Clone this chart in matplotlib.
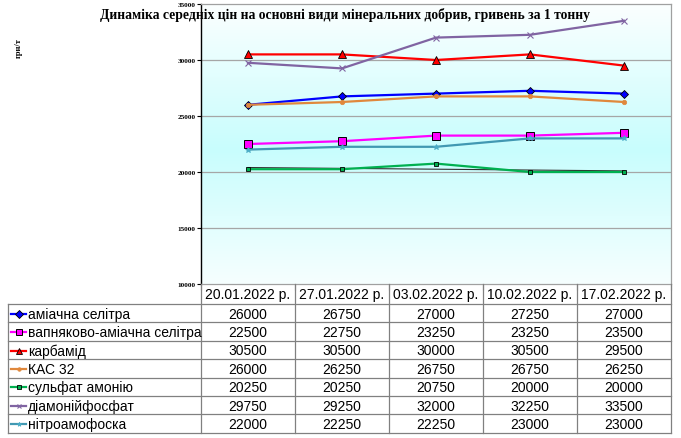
import numpy as np
import matplotlib
matplotlib.use('Agg')
import matplotlib.pyplot as plt
from matplotlib.lines import Line2D
from matplotlib.colors import LinearSegmentedColormap

title = "Динаміка середніх цін на основні види мінеральних добрив, гривень за 1 тонну"
y_label = "грн/т"
dates = ["20.01.2022 р.", "27.01.2022 р.", "03.02.2022 р.", "10.02.2022 р.", "17.02.2022 р."]
series_names = ["аміачна селітра", "вапняково-аміачна селітра", "карбамід", "КАС 32",
                "сульфат амонію", "діамонійфосфат", "нітроамофоска"]
amm_nitrate = [26000, 26750, 27000, 27250, 27000]
lime_amm_nitrate = [22500, 22750, 23250, 23250, 23500]
urea = [30500, 30500, 30000, 30500, 29500]
uan32 = [26000, 26250, 26750, 26750, 26250]
amm_sulfate = [20250, 20250, 20750, 20000, 20000]
dap = [29750, 29250, 32000, 32250, 33500]
nitroamophoska = [22000, 22250, 22250, 23000, 23000]
yticks = [10000, 15000, 20000, 25000, 30000, 35000]

series_values = [amm_nitrate, lime_amm_nitrate, urea, uan32, amm_sulfate, dap, nitroamophoska]
styles = [
    dict(color='#0000ff', marker='D', ms=4.5, mfc='#0000ff', mec='black', mew=0.6),
    dict(color='#ff00ff', marker='s', ms=6, mfc='#ff00ff', mec='black', mew=0.7),
    dict(color='#ff0000', marker='^', ms=5.5, mfc='#ff0000', mec='black', mew=0.6),
    dict(color='#e0883c', marker='o', ms=3.2, mfc='#e0883c', mec='#e0883c', mew=0.5),
    dict(color='#00b050', marker='s', ms=3.5, mfc='#00b050', mec='black', mew=0.6),
    dict(color='#8064a2', marker='x', ms=4, mfc='#8064a2', mec='#8064a2', mew=0.8),
    dict(color='#4198b2', marker='*', ms=4, mfc='#4bacc6', mec='#4bacc6', mew=0.6),
]

W, H = 681, 439
fig = plt.figure(figsize=(W / 100, H / 100), dpi=100)
fig.patch.set_facecolor('white')

L, R, T, B = 201, 671, 5, 285
ax = fig.add_axes([L / W, 1 - B / H, (R - L) / W, (B - T) / H])
x = np.arange(len(dates))
ax.set_xlim(-0.5, len(dates) - 0.5)
ax.set_ylim(yticks[0], yticks[-1])

# gradient background
cmap = LinearSegmentedColormap.from_list('bg', [(0, '#fbffff'), (0.52, '#c8fdfd'), (1, '#f6ffff')])
grad = np.linspace(0, 1, 256).reshape(-1, 1)
ax.imshow(grad, aspect='auto', cmap=cmap, extent=[-0.5, len(dates) - 0.5, yticks[0], yticks[-1]],
          origin='upper', zorder=0)

for yt in yticks[1:-1]:
    ax.axhline(yt, color='#a6a6a6', lw=0.9, zorder=1)

for vals, st in zip(series_values, styles):
    ax.plot(x, vals, lw=1.6, zorder=3, **st)

# linear trend for ammonium sulfate
coef = np.polyfit(x, amm_sulfate, 1)
ax.plot(x, np.polyval(coef, x), color='#303030', lw=0.8, zorder=2.5)

ax.set_yticks(yticks)
ax.set_yticklabels([str(v) for v in yticks], fontsize=5.2, family='Liberation Serif', fontweight='bold')
ax.set_xticks(np.arange(len(dates) + 1) - 0.5)
ax.set_xticklabels([])
ax.tick_params(axis='y', length=3, width=0.8, pad=1, color='black')
ax.tick_params(axis='x', length=4, width=0.8, color='#808080')
for s in ['top', 'right', 'bottom']:
    ax.spines[s].set_color('#a0a0a0')
    ax.spines[s].set_linewidth(0.9)
ax.spines['left'].set_color('black')
ax.spines['left'].set_linewidth(1.0)

fig.text(345 / W, 1 - 15 / H, title, ha='center', va='center', fontsize=9.8,
         family='Liberation Serif', fontweight='bold')
fig.text(19 / W, 1 - 48 / H, y_label, ha='center', va='center', fontsize=6,
         family='Liberation Serif', fontweight='bold', rotation=90)

# data table
ov = fig.add_axes([0, 0, 1, 1], zorder=5)
ov.set_xlim(0, W)
ov.set_ylim(H, 0)
ov.axis('off')
ov.patch.set_alpha(0)

col_edges = np.linspace(L, R, len(dates) + 1)
header_bottom = 305
row_h = 18.4
n_rows = len(series_names)
row_edges = header_bottom + row_h * np.arange(n_rows + 1)
lc = '#808080'
left_tab = 8
for ce in col_edges:
    ov.plot([ce, ce], [B, row_edges[-1]], color=lc, lw=0.9)
ov.plot([left_tab, left_tab], [header_bottom, row_edges[-1]], color=lc, lw=0.9)
for re_ in row_edges:
    ov.plot([left_tab, R], [re_, re_], color=lc, lw=0.9)

for i, d in enumerate(dates):
    cx = (col_edges[i] + col_edges[i + 1]) / 2
    ov.text(cx, (B + header_bottom) / 2 + 0.5, d, ha='center', va='center', fontsize=10,
            family='Liberation Sans')

for r, (name, vals, st) in enumerate(zip(series_names, series_values, styles)):
    cy = (row_edges[r] + row_edges[r + 1]) / 2 + 0.5
    ov.add_line(Line2D([11, 26], [cy, cy], color=st['color'], lw=1.6))
    ms = st['ms'] * 0.8
    ov.add_line(Line2D([18.5], [cy], marker=st['marker'], ms=ms, mfc=st['mfc'], mec=st['mec'],
                       mew=st['mew'], color=st['color'], lw=0))
    ov.text(28, cy, name, ha='left', va='center', fontsize=10, family='Liberation Sans')
    for i, v in enumerate(vals):
        cx = (col_edges[i] + col_edges[i + 1]) / 2
        ov.text(cx, cy, str(v), ha='center', va='center', fontsize=10, family='Liberation Sans')

fig.savefig('out.png', dpi=100)
